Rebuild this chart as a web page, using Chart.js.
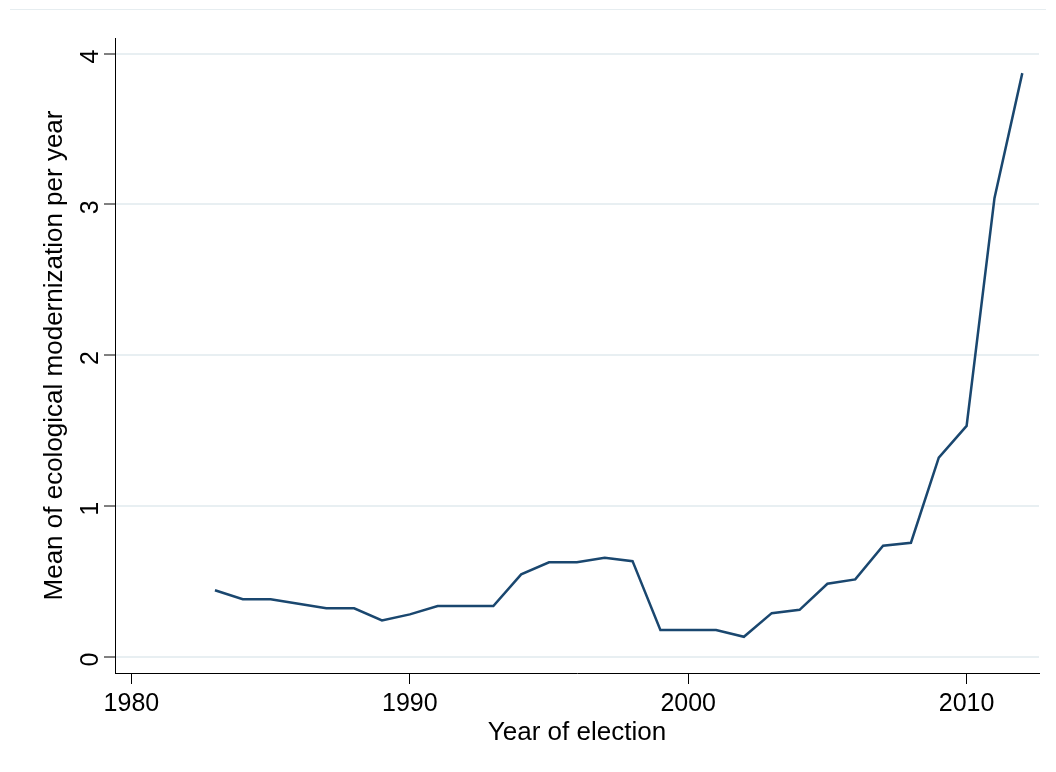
<!DOCTYPE html>
<html>
<head>
<meta charset="utf-8">
<script src="https://cdn.jsdelivr.net/npm/chart.js@4/dist/chart.umd.min.js"></script>
<style>
    html, body { margin: 0; padding: 0; background: #fff; }
    #wrap { position: relative; width: 1056px; height: 772px; }
    #topRule { position: absolute; left: 10px; right: 10px; top: 9px; height: 0; border-top: 1px solid #e6edf0; }
</style>
</head>
<body>
<div id="wrap">
    <div id="topRule"></div>
    <canvas id="meanChart" width="1056" height="772"></canvas>
</div>
<script>
// years of election and mean ecological modernization score
const years = [1983, 1984, 1985, 1986, 1987, 1988, 1989, 1990, 1991, 1992,
               1993, 1994, 1995, 1996, 1997, 1998, 1999, 2000, 2001, 2002,
               2003, 2004, 2005, 2006, 2007, 2008, 2009, 2010, 2011, 2012];
const meanEcoMod = [0.44, 0.38, 0.38, 0.35, 0.32, 0.32, 0.24, 0.28, 0.335, 0.335,
                    0.335, 0.545, 0.625, 0.625, 0.655, 0.633, 0.176, 0.176, 0.176, 0.131,
                    0.288, 0.31, 0.483, 0.512, 0.735, 0.755, 1.32, 1.53, 3.04, 3.87];
const xTicks = [1980, 1990, 2000, 2010];
const yTicks = [0, 1, 2, 3, 4];

const FONT = '"Liberation Sans", Arial, sans-serif';

new Chart(document.getElementById('meanChart'), {
    type: 'line',
    data: {
        datasets: [{
            label: 'Mean of ecological modernization per year',
            data: years.map((y, i) => ({ x: y, y: meanEcoMod[i] })),
            borderColor: '#1a476f',
            borderWidth: 2.5,
            pointRadius: 0,
            tension: 0,
            fill: false
        }]
    },
    options: {
        responsive: false,
        animation: false,
        events: [],
        layout: { padding: { top: 38, right: 17, left: 0, bottom: 0 } },
        plugins: {
            legend: { display: false },
            tooltip: { enabled: false }
        },
        scales: {
            x: {
                type: 'linear',
                min: 1979.41,
                max: 2012.6,
                afterBuildTicks: s => { s.ticks = xTicks.map(v => ({ value: v })); },
                afterFit: s => { s.height = 99; },
                border: { color: '#000', width: 1 },
                grid: { drawOnChartArea: false, color: '#000', tickLength: 11, tickWidth: 1 },
                ticks: {
                    color: '#000',
                    font: { family: FONT, size: 25 },
                    padding: 5,
                    maxRotation: 0,
                    callback: v => String(v)
                },
                title: {
                    display: true,
                    text: 'Year of election',
                    color: '#000',
                    font: { family: FONT, size: 26 },
                    padding: { top: 0, bottom: 24 }
                }
            },
            y: {
                type: 'linear',
                min: -0.109,
                max: 4.103,
                afterBuildTicks: s => { s.ticks = yTicks.map(v => ({ value: v })); },
                afterFit: s => { s.width = 115; },
                border: { color: '#000', width: 1 },
                grid: { color: '#e8eff2', lineWidth: 2, tickColor: '#000', tickLength: 11, tickWidth: 1 },
                ticks: {
                    color: '#000',
                    font: { family: FONT, size: 25 },
                    padding: 13,
                    labelOffset: -4,
                    minRotation: 90,
                    maxRotation: 90,
                    callback: v => String(v)
                },
                title: {
                    display: true,
                    text: 'Mean of ecological modernization per year',
                    color: '#000',
                    font: { family: FONT, size: 26 },
                    padding: { top: 39, bottom: 0 }
                }
            }
        }
    }
});
</script>
</body>
</html>
